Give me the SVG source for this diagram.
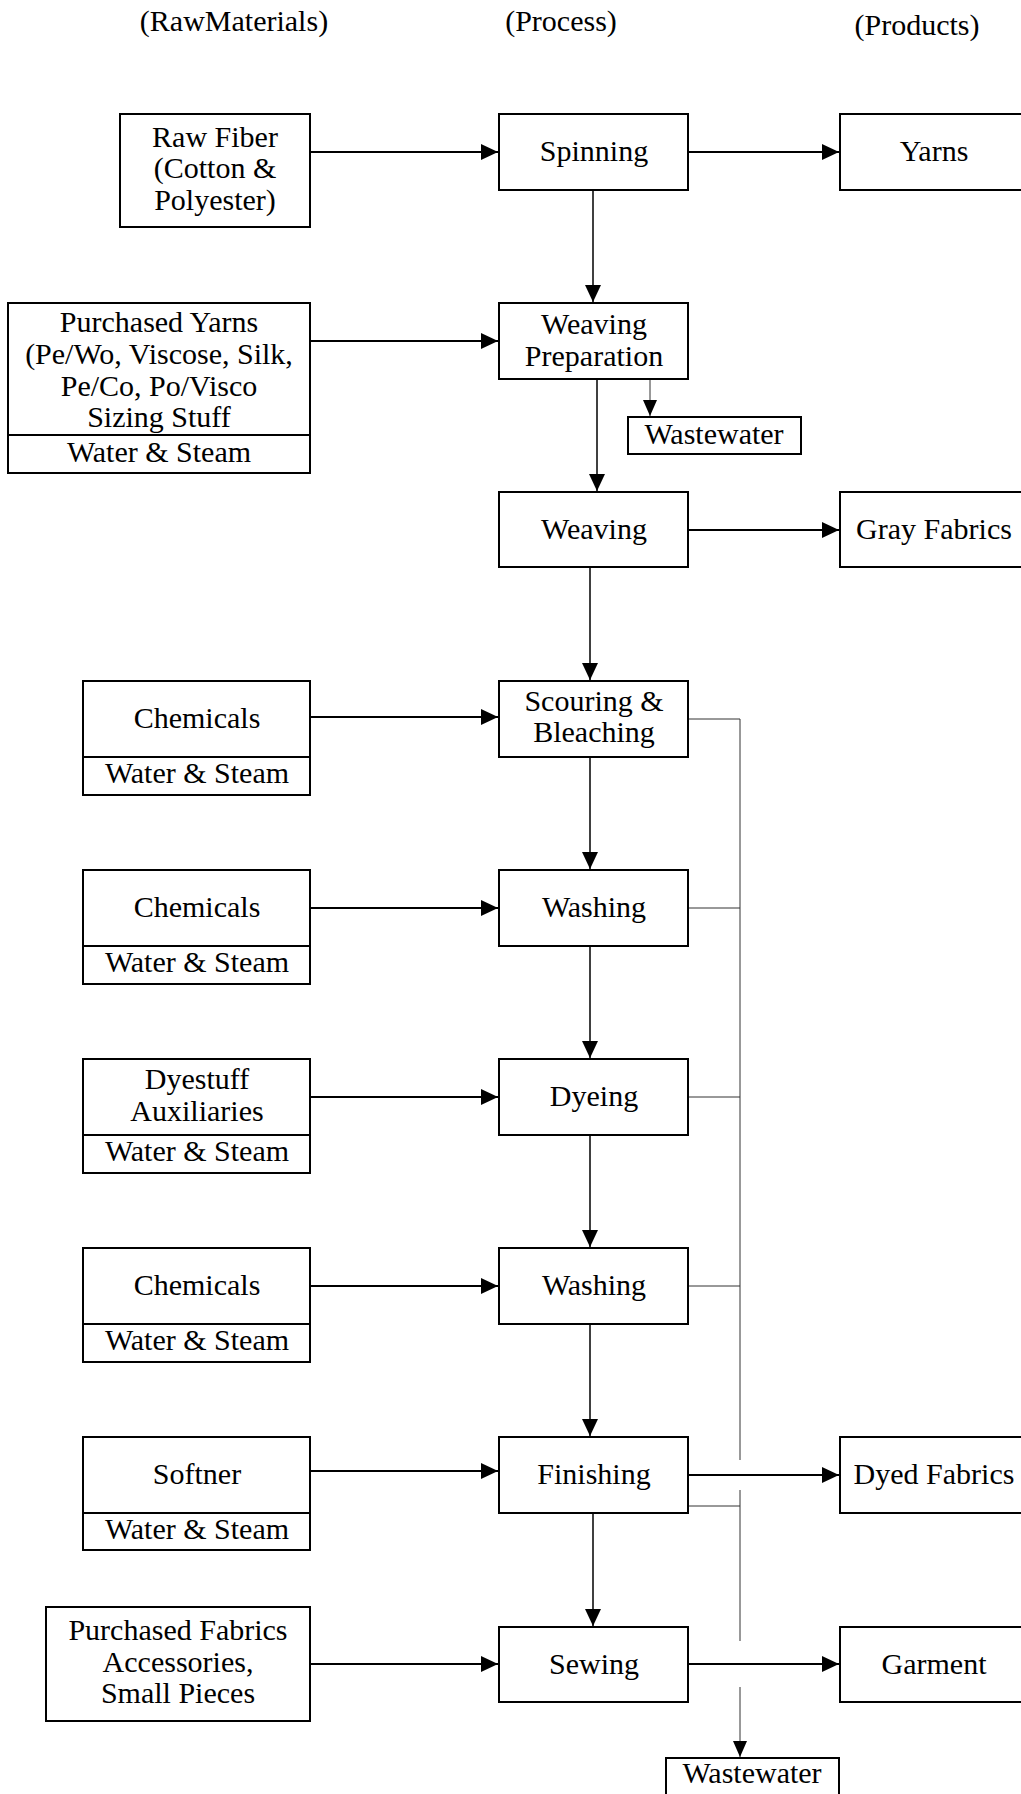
<svg xmlns="http://www.w3.org/2000/svg" width="1021" height="1794" viewBox="0 0 1021 1794">
<style>
text{font-family:"Liberation Serif","Times New Roman",serif;font-size:30px;fill:#000;text-anchor:middle}
.box{fill:#fff;stroke:#000;stroke-width:2}
.div{stroke:#000;stroke-width:2}
.h{stroke:#000;stroke-width:2;fill:none}
.v{stroke:#000;stroke-width:1.5;fill:none}
.w{stroke:#333;stroke-width:1;fill:none}
</style>
<defs>
<marker id="ah" markerUnits="userSpaceOnUse" markerWidth="17" markerHeight="16" refX="17" refY="8" orient="auto">
<path d="M0,0 L17,8 L0,16 z" fill="#000"/>
</marker>
<marker id="as" markerUnits="userSpaceOnUse" markerWidth="16" markerHeight="14" refX="16" refY="7" orient="auto">
<path d="M0,0 L16,7 L0,14 z" fill="#000"/>
</marker>
</defs>
<g id="headers">
<text x="234" y="31">(RawMaterials)</text>
<text x="561" y="31">(Process)</text>
<text x="917" y="35">(Products)</text>
</g>
<g id="connectors">
<line class="h" x1="310" y1="152" x2="498" y2="152" marker-end="url(#ah)"/>
<line class="h" x1="688" y1="152" x2="839" y2="152" marker-end="url(#ah)"/>
<line class="h" x1="310" y1="341" x2="498" y2="341" marker-end="url(#ah)"/>
<line class="h" x1="688" y1="530" x2="839" y2="530" marker-end="url(#ah)"/>
<line class="h" x1="310" y1="717" x2="498" y2="717" marker-end="url(#ah)"/>
<line class="h" x1="310" y1="908" x2="498" y2="908" marker-end="url(#ah)"/>
<line class="h" x1="310" y1="1097" x2="498" y2="1097" marker-end="url(#ah)"/>
<line class="h" x1="310" y1="1286" x2="498" y2="1286" marker-end="url(#ah)"/>
<line class="h" x1="310" y1="1471" x2="498" y2="1471" marker-end="url(#ah)"/>
<line class="h" x1="688" y1="1475" x2="839" y2="1475" marker-end="url(#ah)"/>
<line class="h" x1="310" y1="1664" x2="498" y2="1664" marker-end="url(#ah)"/>
<line class="h" x1="688" y1="1664" x2="839" y2="1664" marker-end="url(#ah)"/>
<line class="v" x1="593" y1="190" x2="593" y2="302" marker-end="url(#ah)"/>
<line class="v" x1="597" y1="379" x2="597" y2="491" marker-end="url(#ah)"/>
<line class="v" x1="590" y1="567" x2="590" y2="680" marker-end="url(#ah)"/>
<line class="v" x1="590" y1="757" x2="590" y2="869" marker-end="url(#ah)"/>
<line class="v" x1="590" y1="946" x2="590" y2="1058" marker-end="url(#ah)"/>
<line class="v" x1="590" y1="1135" x2="590" y2="1247" marker-end="url(#ah)"/>
<line class="v" x1="590" y1="1324" x2="590" y2="1436" marker-end="url(#ah)"/>
<line class="v" x1="593" y1="1513" x2="593" y2="1626" marker-end="url(#ah)"/>
<line class="w" x1="650" y1="379" x2="650" y2="416" marker-end="url(#as)"/>
<polyline class="w" points="688,719 740,719 740,1460"/>
<line class="w" x1="688" y1="908" x2="740" y2="908"/>
<line class="w" x1="688" y1="1097" x2="740" y2="1097"/>
<line class="w" x1="688" y1="1286" x2="740" y2="1286"/>
<line class="w" x1="688" y1="1506" x2="740" y2="1506"/>
<line class="w" x1="740" y1="1490" x2="740" y2="1641"/>
<line class="w" x1="740" y1="1687" x2="740" y2="1757" marker-end="url(#as)"/>
</g>
<g id="raw-fiber">
<rect class="box" x="120" y="114" width="190" height="113"/>
<text x="215" y="147">Raw Fiber</text>
<text x="215" y="178">(Cotton &amp;</text>
<text x="215" y="210">Polyester)</text>
</g>
<g id="spinning">
<rect class="box" x="499" y="114" width="189" height="76"/>
<text x="594" y="161">Spinning</text>
</g>
<g id="yarns">
<rect class="box" x="840" y="114" width="189" height="76"/>
<text x="934" y="161">Yarns</text>
</g>
<g id="purchased-yarns">
<rect class="box" x="8" y="303" width="302" height="170"/>
<line class="div" x1="8" y1="435" x2="310" y2="435"/>
<text x="159" y="332">Purchased Yarns</text>
<text x="159" y="364">(Pe/Wo, Viscose, Silk,</text>
<text x="159" y="396">Pe/Co, Po/Visco</text>
<text x="159" y="427">Sizing Stuff</text>
<text x="159" y="462">Water &amp; Steam</text>
</g>
<g id="weaving-preparation">
<rect class="box" x="499" y="303" width="189" height="76"/>
<text x="594" y="334">Weaving</text>
<text x="594" y="366">Preparation</text>
</g>
<g id="wastewater-1">
<rect class="box" x="628" y="417" width="173" height="37"/>
<text x="714" y="444">Wastewater</text>
</g>
<g id="weaving">
<rect class="box" x="499" y="492" width="189" height="75"/>
<text x="594" y="539">Weaving</text>
</g>
<g id="gray-fabrics">
<rect class="box" x="840" y="492" width="189" height="75"/>
<text x="934" y="539">Gray Fabrics</text>
</g>
<g id="chemicals-1">
<rect class="box" x="83" y="681" width="227" height="114"/>
<line class="div" x1="83" y1="757" x2="310" y2="757"/>
<text x="197" y="728">Chemicals</text>
<text x="197" y="783">Water &amp; Steam</text>
</g>
<g id="scouring-bleaching">
<rect class="box" x="499" y="681" width="189" height="76"/>
<text x="594" y="711">Scouring &amp;</text>
<text x="594" y="742">Bleaching</text>
</g>
<g id="chemicals-2">
<rect class="box" x="83" y="870" width="227" height="114"/>
<line class="div" x1="83" y1="946" x2="310" y2="946"/>
<text x="197" y="917">Chemicals</text>
<text x="197" y="972">Water &amp; Steam</text>
</g>
<g id="washing-1">
<rect class="box" x="499" y="870" width="189" height="76"/>
<text x="594" y="917">Washing</text>
</g>
<g id="dyestuff">
<rect class="box" x="83" y="1059" width="227" height="114"/>
<line class="div" x1="83" y1="1135" x2="310" y2="1135"/>
<text x="197" y="1089">Dyestuff</text>
<text x="197" y="1121">Auxiliaries</text>
<text x="197" y="1161">Water &amp; Steam</text>
</g>
<g id="dyeing">
<rect class="box" x="499" y="1059" width="189" height="76"/>
<text x="594" y="1106">Dyeing</text>
</g>
<g id="chemicals-3">
<rect class="box" x="83" y="1248" width="227" height="114"/>
<line class="div" x1="83" y1="1324" x2="310" y2="1324"/>
<text x="197" y="1295">Chemicals</text>
<text x="197" y="1350">Water &amp; Steam</text>
</g>
<g id="washing-2">
<rect class="box" x="499" y="1248" width="189" height="76"/>
<text x="594" y="1295">Washing</text>
</g>
<g id="softner">
<rect class="box" x="83" y="1437" width="227" height="113"/>
<line class="div" x1="83" y1="1513" x2="310" y2="1513"/>
<text x="197" y="1484">Softner</text>
<text x="197" y="1539">Water &amp; Steam</text>
</g>
<g id="finishing">
<rect class="box" x="499" y="1437" width="189" height="76"/>
<text x="594" y="1484">Finishing</text>
</g>
<g id="dyed-fabrics">
<rect class="box" x="840" y="1437" width="189" height="76"/>
<text x="934" y="1484">Dyed Fabrics</text>
</g>
<g id="purchased-fabrics">
<rect class="box" x="46" y="1607" width="264" height="114"/>
<text x="178" y="1640">Purchased Fabrics</text>
<text x="178" y="1672">Accessories,</text>
<text x="178" y="1703">Small Pieces</text>
</g>
<g id="sewing">
<rect class="box" x="499" y="1627" width="189" height="75"/>
<text x="594" y="1674">Sewing</text>
</g>
<g id="garment">
<rect class="box" x="840" y="1627" width="189" height="75"/>
<text x="934" y="1674">Garment</text>
</g>
<g id="wastewater-2">
<rect class="box" x="666" y="1758" width="173" height="40"/>
<text x="752" y="1783">Wastewater</text>
</g>
</svg>
